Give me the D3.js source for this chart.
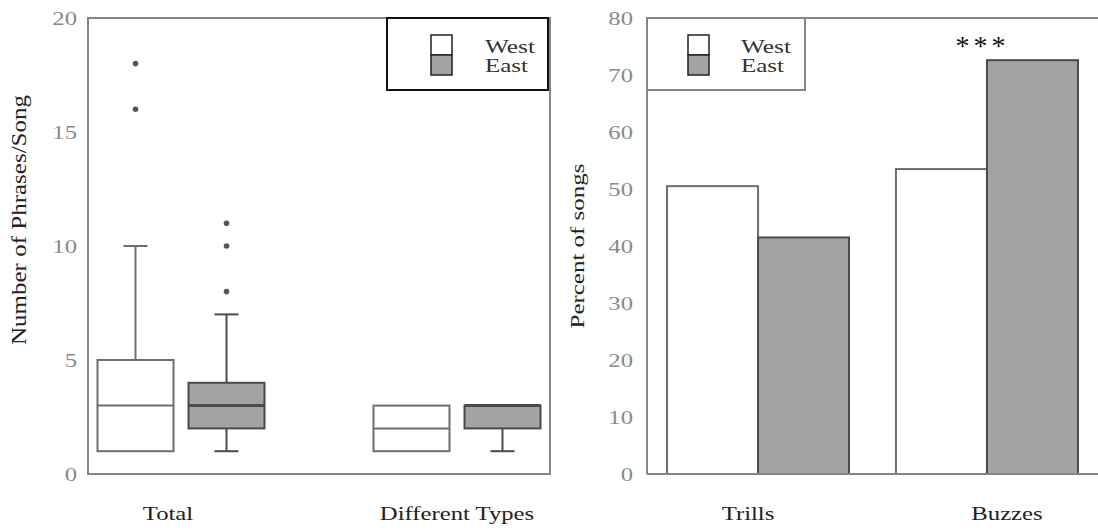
<!DOCTYPE html>
<html>
<head>
<meta charset="utf-8">
<script src="https://cdn.jsdelivr.net/npm/d3@7"></script>
<style>
  body { margin: 0; background: #fff; }
  svg text { font-family: "Liberation Serif", "Times New Roman", serif; }
</style>
</head>
<body>
<svg id="chart" width="1098" height="531"></svg>
<script>
(function(d3) {
  'use strict';

  // data
  var regions = ['West', 'East'];
  var boxGroups = ['Total', 'Different Types'];
  // [min, q1, median, q3, max] per group
  var westBoxes = [[1, 1, 3, 5, 10], [1, 1, 2, 3, 3]];
  var eastBoxes = [[1, 2, 3, 4, 7], [1, 2, 3, 3, 3]];
  var westOutliers = [[16, 18], []];
  var eastOutliers = [[8, 10, 11], []];
  var leftTicks = [0, 5, 10, 15, 20];

  var barGroups = ['Trills', 'Buzzes'];
  var westPct = [50.5, 53.5];
  var eastPct = [41.5, 72.6];
  var rightTicks = [0, 10, 20, 30, 40, 50, 60, 70, 80];

  var fills = { West: '#ffffff', East: '#a3a3a3' };
  var strokes = { West: '#6e6e6e', East: '#4a4a4a' };
  var frameColor = '#858585';
  var tickColor = '#8a8a8a';
  var stretch = 1.3; // the picture's text is a bit wide

  var svg = d3.select('#chart');
  var top = 18, bottom = 474;

  function styleTicks(g) {
    g.select('.domain').remove();
    g.selectAll('text')
        .attr('font-size', '19px')
        .attr('fill', tickColor)
        .attr('font-family', '"Liberation Serif", serif')
        .attr('transform', 'scale(' + stretch + ',1)');
  }

  function wideText(g, x, y, txt, size) {
    return g.append('text')
        .attr('transform', 'translate(' + x + ',' + y + ') scale(' + stretch + ',1)')
        .attr('text-anchor', 'middle')
        .attr('font-size', size)
        .attr('fill', '#222')
        .text(txt);
  }

  // ---------- left panel: box plots ----------
  var x0 = d3.scalePoint().domain(boxGroups).range([88, 550]).padding(0.337);
  var xr = d3.scaleBand().domain(regions).range([-83.5, 83.5]).paddingInner(0.165);
  var y0 = d3.scaleLinear().domain([0, 20]).range([bottom, top]);

  var left = svg.append('g');

  left.append('g')
      .attr('transform', 'translate(77,0)')
      .call(d3.axisLeft(y0).tickValues(leftTicks).tickSize(0).tickPadding(0))
      .call(styleTicks);

  left.append('rect')
      .attr('x', 88).attr('y', top)
      .attr('width', 550 - 88).attr('height', bottom - top)
      .attr('fill', 'none')
      .attr('stroke', frameColor)
      .attr('stroke-width', 2);

  var boxes = [];
  boxGroups.forEach(function(g, i) {
    boxes.push({ group: g, region: 'West', s: westBoxes[i], out: westOutliers[i] });
    boxes.push({ group: g, region: 'East', s: eastBoxes[i], out: eastOutliers[i] });
  });

  var bw = xr.bandwidth();
  var capW = 24;
  boxes.forEach(function(b) {
    var cx = x0(b.group) + xr(b.region) + bw / 2;
    var g = left.append('g')
        .attr('stroke', strokes[b.region])
        .attr('stroke-width', 2);
    // whiskers
    if (b.s[4] > b.s[3]) {
      g.append('line').attr('x1', cx).attr('x2', cx)
          .attr('y1', y0(b.s[3])).attr('y2', y0(b.s[4]));
      g.append('line').attr('x1', cx - capW / 2).attr('x2', cx + capW / 2)
          .attr('y1', y0(b.s[4])).attr('y2', y0(b.s[4]));
    }
    if (b.s[0] < b.s[1]) {
      g.append('line').attr('x1', cx).attr('x2', cx)
          .attr('y1', y0(b.s[1])).attr('y2', y0(b.s[0]));
      g.append('line').attr('x1', cx - capW / 2).attr('x2', cx + capW / 2)
          .attr('y1', y0(b.s[0])).attr('y2', y0(b.s[0]));
    }
    g.append('rect')
        .attr('x', cx - bw / 2).attr('y', y0(b.s[3]))
        .attr('width', bw).attr('height', y0(b.s[1]) - y0(b.s[3]))
        .attr('fill', fills[b.region]);
    g.append('line').attr('x1', cx - bw / 2).attr('x2', cx + bw / 2)
        .attr('y1', y0(b.s[2])).attr('y2', y0(b.s[2]))
        .attr('stroke-width', b.region === 'East' ? 3 : 2);
    left.selectAll(null)
        .data(b.out)
        .enter().append('circle')
        .attr('cx', cx).attr('cy', function(d) { return y0(d); })
        .attr('r', 2.8)
        .attr('fill', '#555');
  });

  boxGroups.forEach(function(d, i) {
    wideText(left, x0(d) + (i === 0 ? -13 : 0), 520, d, '19px');
  });

  left.append('text')
      .attr('transform', 'translate(26,220) rotate(-90)')
      .attr('text-anchor', 'middle')
      .attr('font-size', '20px')
      .attr('fill', '#222')
      .attr('textLength', 250)
      .attr('lengthAdjust', 'spacingAndGlyphs')
      .text('Number of Phrases/Song');

  // ---------- right panel: bars ----------
  var x1 = d3.scalePoint().domain(barGroups).range([647, 1098]).padding(0.485);
  var xb = d3.scaleBand().domain(regions).range([-91, 91]);
  var y1 = d3.scaleLinear().domain([0, 80]).range([bottom, top]);

  var right = svg.append('g');

  right.append('g')
      .attr('transform', 'translate(633,0)')
      .call(d3.axisLeft(y1).tickValues(rightTicks).tickSize(0).tickPadding(0))
      .call(styleTicks);

  var bars = [];
  barGroups.forEach(function(g, i) {
    bars.push({ group: g, region: 'West', value: westPct[i] });
    bars.push({ group: g, region: 'East', value: eastPct[i] });
  });

  right.selectAll('.bar')
      .data(bars)
      .enter().append('rect')
      .attr('class', 'bar')
      .attr('x', function(d) { return x1(d.group) + xb(d.region); })
      .attr('y', function(d) { return y1(d.value); })
      .attr('width', xb.bandwidth())
      .attr('height', function(d) { return bottom - y1(d.value); })
      .attr('fill', function(d) { return fills[d.region]; })
      .attr('stroke', function(d) { return strokes[d.region]; })
      .attr('stroke-width', 2);

  right.append('path')
      .attr('d', 'M647,' + bottom + 'V' + top + 'H1098')
      .attr('fill', 'none')
      .attr('stroke', frameColor)
      .attr('stroke-width', 2);
  right.append('line')
      .attr('x1', 647).attr('x2', 1098)
      .attr('y1', bottom).attr('y2', bottom)
      .attr('stroke', frameColor)
      .attr('stroke-width', 2);

  right.append('text')
      .attr('x', x1('Buzzes') + xb('East') + xb.bandwidth() / 2 - 50)
      .attr('y', 55)
      .attr('text-anchor', 'middle')
      .attr('font-size', '28px')
      .attr('letter-spacing', '4px')
      .attr('fill', '#111')
      .text('***');

  barGroups.forEach(function(d, i) {
    wideText(right, x1(d) + (i === 0 ? -10 : 20), 520, d, '19px');
  });

  right.append('text')
      .attr('transform', 'translate(584,246) rotate(-90)')
      .attr('text-anchor', 'middle')
      .attr('font-size', '18px')
      .attr('fill', '#222')
      .attr('textLength', 165)
      .attr('lengthAdjust', 'spacingAndGlyphs')
      .text('Percent of songs');

  // ---------- legends ----------
  function legend(g, bx, by, bwid, bht, sx, tx, boxStroke) {
    g.append('rect')
        .attr('x', bx).attr('y', by)
        .attr('width', bwid).attr('height', bht)
        .attr('fill', '#fff')
        .attr('stroke', boxStroke)
        .attr('stroke-width', 2);
    regions.forEach(function(r, i) {
      g.append('rect')
          .attr('x', sx).attr('y', 35 + i * 20)
          .attr('width', 21).attr('height', 20)
          .attr('fill', fills[r])
          .attr('stroke', '#222')
          .attr('stroke-width', 1.5);
      g.append('text')
          .attr('x', tx).attr('y', 53 + i * 19)
          .attr('font-size', '19px')
          .attr('fill', '#333')
          .attr('textLength', i === 0 ? 50 : 43)
          .attr('lengthAdjust', 'spacingAndGlyphs')
          .text(r);
    });
  }
  legend(left, 387, top, 161, 72, 431, 485, '#111');
  legend(right, 647, top, 158, 72, 688, 741, frameColor);

})(window.d3);
</script>
</body>
</html>
